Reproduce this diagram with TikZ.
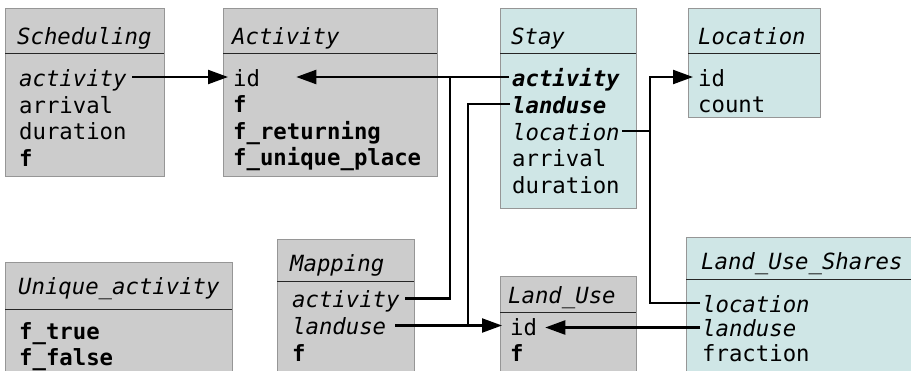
\documentclass[tikz,border=0pt]{standalone}
\usepackage{fontspec}
\newfontfamily\djm{DejaVu Sans Mono}[ItalicFont={DejaVu Sans Mono Oblique},BoldFont={DejaVu Sans Mono Bold},BoldItalicFont={DejaVu Sans Mono Bold Oblique}]
\usetikzlibrary{arrows.meta}
\definecolor{boxgray}{RGB}{204,204,204}
\definecolor{boxblue}{RGB}{207,230,230}
\definecolor{edgegray}{RGB}{150,150,150}
\tikzset{
  graybox/.style={fill=boxgray, draw=edgegray, line width=0.9pt},
  bluebox/.style={fill=boxblue, draw=edgegray, line width=0.9pt},
  sepline/.style={draw=black!85, line width=1pt},
  txt/.style={anchor=west, inner sep=0pt, text height=18pt, text depth=0pt, font=\djm\fontsize{22.3pt}{26pt}\selectfont},
  ttl/.style={txt, font=\djm\fontsize{22.3pt}{26pt}\selectfont\itshape},
  itx/.style={txt, font=\djm\fontsize{22.3pt}{26pt}\selectfont\itshape},
  btx/.style={txt, font=\djm\fontsize{22.3pt}{26pt}\selectfont\bfseries},
  bitx/.style={txt, font=\djm\fontsize{22.3pt}{26pt}\selectfont\bfseries\itshape},
  conn/.style={draw=black, line width=2.2pt},
  arr/.style={conn, -{Triangle[length=20pt,width=14pt]}},
}
\begin{document}
\begin{tikzpicture}[x=1pt,y=-1pt]
\useasboundingbox (0,0) rectangle (911,370);
\fill[white] (0,0) rectangle (911,370);
\clip (0,0) rectangle (911,370);
% ---- boxes
\draw[graybox] (5,8) rectangle (164,176);   \draw[sepline] (5,53) -- (164,53);
\draw[graybox] (223,8) rectangle (437,176); \draw[sepline] (223,53) -- (437,53);
\draw[bluebox] (500,8) rectangle (636,208); \draw[sepline] (500,53) -- (636,53);
\draw[bluebox] (688,8) rectangle (820,117); \draw[sepline] (688,53) -- (820,53);
\draw[graybox] (5,262) rectangle (232,376); \draw[sepline] (5,309) -- (232,309);
\draw[graybox] (277,239) rectangle (414,376); \draw[sepline] (277,281) -- (414,281);
\draw[graybox] (500,276) rectangle (636,376); \draw[sepline] (500,312) -- (636,312);
\draw[bluebox] (686,237) rectangle (918,376); \draw[sepline] (686,279) -- (918,279);
% ---- titles
\node[ttl] (sch-t) at (17,35) {Scheduling};
\node[ttl] (act-t) at (232,35) {Activity};
\node[ttl] (st-t) at (511,35) {Stay};
\node[ttl] (loc-t) at (698,35) {Location};
\node[ttl] (uni-t) at (18,285) {Unique\_activity};
\node[ttl] (map-t) at (290,262) {Mapping};
\node[ttl] (lu-t) at (508,294) {Land\_Use};
\node[ttl] (lus-t) at (701,260) {Land\_Use\_Shares};
% ---- rows
\node[itx] (sch-act) at (19,77) {activity};
\node[txt] (sch-arr) at (19,104) {arrival};
\node[txt] (sch-dur) at (19,130.5) {duration};
\node[btx] (sch-f) at (19,157) {f};
\node[txt] (act-id) at (233,77) {id};
\node[btx] (act-f) at (233,103.5) {f};
\node[btx] (act-fr) at (233,130) {f\_returning};
\node[btx] (act-fu) at (233,156.5) {f\_unique\_place};
\node[bitx] (st-act) at (512,77) {activity};
\node[bitx] (st-lu) at (512,104) {landuse};
\node[itx] (st-loc) at (512,131) {location};
\node[txt] (st-arr) at (512,157.5) {arrival};
\node[txt] (st-dur) at (512,184) {duration};
\node[txt] (loc-id) at (698,77) {id};
\node[txt] (loc-cnt) at (698,103.5) {count};
\node[btx] (uni-t1) at (19,330) {f\_true};
\node[btx] (uni-f1) at (19,356.5) {f\_false};
\node[itx] (map-act) at (292,298.5) {activity};
\node[itx] (map-lu) at (292,325.5) {landuse};
\node[btx] (map-f) at (292,352) {f};
\node[txt] (lu-id) at (510,326) {id};
\node[btx] (lu-f) at (510,352.5) {f};
\node[itx] (lus-loc) at (702,303) {location};
\node[itx] (lus-lu) at (702,327.5) {landuse};
\node[txt] (lus-fr) at (702,352.5) {fraction};
% ---- junctions
\coordinate (ja) at (450,77);
\coordinate (jl) at (468,325.5);
\coordinate (jv) at (650,131);
% ---- connectors
\draw[arr] ([xshift=5.5pt]sch-act.east) -- ([xshift=-5pt]act-id.west);
\draw[arr] ([xshift=-3pt]st-act.west) -- ([xshift=36pt]act-id.east);
\draw[conn] ([xshift=5.5pt]map-act.east) -| (ja);
\draw[arr] ([xshift=9pt]map-lu.east) -- ([xshift=-8pt]map-lu.east -| lu-id.west);
\draw[conn] ([xshift=-2pt]st-lu.west) -| (jl);
\draw[arr] ([xshift=-2pt]lus-lu.west) -- ([xshift=8pt]lus-lu.west -| lu-id.east);
\draw[arr] ([xshift=2.6pt]st-loc.east) -- (jv) |- ([xshift=-5pt]loc-id.west);
\draw[conn] ([xshift=-2pt]lus-loc.west) -| (jv);
\end{tikzpicture}
\end{document}
